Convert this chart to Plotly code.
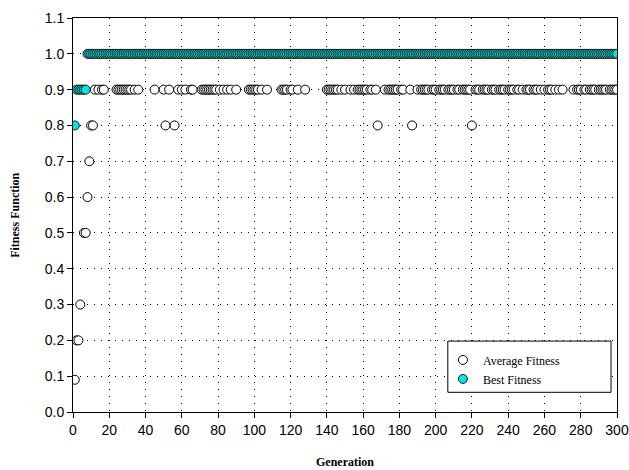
import plotly.graph_objects as go

# ---- data ----
# early generations of the average fitness
avg_early_gen = [1, 2, 3, 4, 6, 7, 8, 9, 10, 11]
avg_early_val = [0.09, 0.2, 0.2, 0.3, 0.5, 0.5, 0.6, 0.7, 0.8, 0.8]

# generations where the average fitness is 0.8 (later on)
avg_08_gen = [51, 56, 168, 187, 220]

# generations where the average fitness is 0.9
avg_09_gen = [12, 14, 16, 17,
              24, 25, 26, 27, 28, 29, 30, 31, 32, 34, 36,
              45, 50, 53, 58, 60, 62, 65, 66,
              71, 72, 73, 74, 75, 76, 77, 78, 79, 81, 83, 85, 87, 90,
              97, 98, 99, 100, 101, 102, 104, 107,
              115, 116, 117, 118, 120, 121, 124, 128,
              140, 141, 142, 143, 144, 145, 146, 148, 150, 153, 155, 157, 158,
              159, 160, 161, 162, 164, 165, 167, 172, 174, 175, 176, 177, 178,
              179, 181, 182, 186, 190,
              192, 193, 194, 195, 196, 198, 199, 200, 202, 203, 204, 205, 207,
              208, 209, 210, 212, 213, 215, 216, 217, 218, 219, 222, 223, 224,
              226, 227, 228, 229, 231, 232, 233, 235, 236, 237, 238, 240, 241,
              242, 243, 245, 246, 248, 250, 251, 252, 254, 255, 256, 258, 260,
              262, 263, 264, 266, 268, 270, 276, 278, 279, 280, 282, 283, 285,
              286, 287, 288, 290, 291, 292, 293, 294, 296, 297, 298, 299, 300]

best_gen = list(range(1, 301))
best_val = [0.8] + [0.9] * 6 + [1.0] * 293

x_ticks = list(range(0, 301, 20))
y_ticks = [round(0.1 * i, 1) for i in range(12)]

avg_gen = avg_early_gen + avg_08_gen + avg_09_gen
avg_val = avg_early_val + [0.8] * len(avg_08_gen) + [0.9] * len(avg_09_gen)

fig = go.Figure()
fig.add_trace(go.Scatter(
    x=avg_gen, y=avg_val, mode="markers", name="Average Fitness",
    marker=dict(symbol="circle", size=9, color="white",
                line=dict(color="black", width=1)),
))
fig.add_trace(go.Scatter(
    x=best_gen, y=best_val, mode="markers", name="Best Fitness",
    marker=dict(symbol="circle", size=9, color="#00E6E6",
                line=dict(color="#1a1a1a", width=1)),
))

serif = "Liberation Serif, Times New Roman, serif"
axis_font = dict(family="Liberation Sans, Arial", size=14, color="black")
fig.update_layout(
    width=629, height=470,
    margin=dict(l=73, r=12, t=18, b=58, autoexpand=False),
    paper_bgcolor="white", plot_bgcolor="white",
    showlegend=True,
    legend=dict(x=0.680, y=0.169, xanchor="left", yanchor="top",
                bgcolor="rgba(0,0,0,0)", borderwidth=0,
                font=dict(family=serif, size=12, color="black"),
                tracegroupgap=2),
    xaxis=dict(range=[0, 300], tickvals=x_ticks, ticks="outside", ticklen=5,
               tickcolor="black", showline=True, linecolor="black",
               linewidth=1, mirror=True, showgrid=True, gridcolor="black",
               gridwidth=1, griddash="1px,6px", zeroline=False,
               automargin=False, tickfont=axis_font),
    yaxis=dict(range=[0, 1.1], tickvals=y_ticks, tickformat=".1f",
               ticks="outside", ticklen=5, tickcolor="black", showline=True,
               linecolor="black", linewidth=1, mirror=True, showgrid=True,
               gridcolor="black", gridwidth=1, griddash="1px,6px",
               zeroline=False, automargin=False, tickfont=axis_font),
    shapes=[
        dict(type="rect", xref="paper", yref="paper",
             x0=0.689, x1=0.989, y0=0.050, y1=0.180,
             line=dict(color="black", width=1), fillcolor="white",
             layer="above"),
    ],
    annotations=[
        dict(text="<b>Generation</b>", x=0.5, y=-0.127, xref="paper",
             yref="paper", xanchor="center", yanchor="middle",
             showarrow=False,
             font=dict(family=serif, size=12, color="black")),
        dict(text="<b>Fitness Function</b>", x=-0.107, y=0.5, xref="paper",
             yref="paper", xanchor="center", yanchor="middle",
             showarrow=False, textangle=-90,
             font=dict(family=serif, size=12, color="black")),
    ],
)

fig.write_html(
    "out.html",
    config={"displayModeBar": False},
    post_script="document.body.style.margin='0';"
                "document.body.style.overflow='hidden';",
)
